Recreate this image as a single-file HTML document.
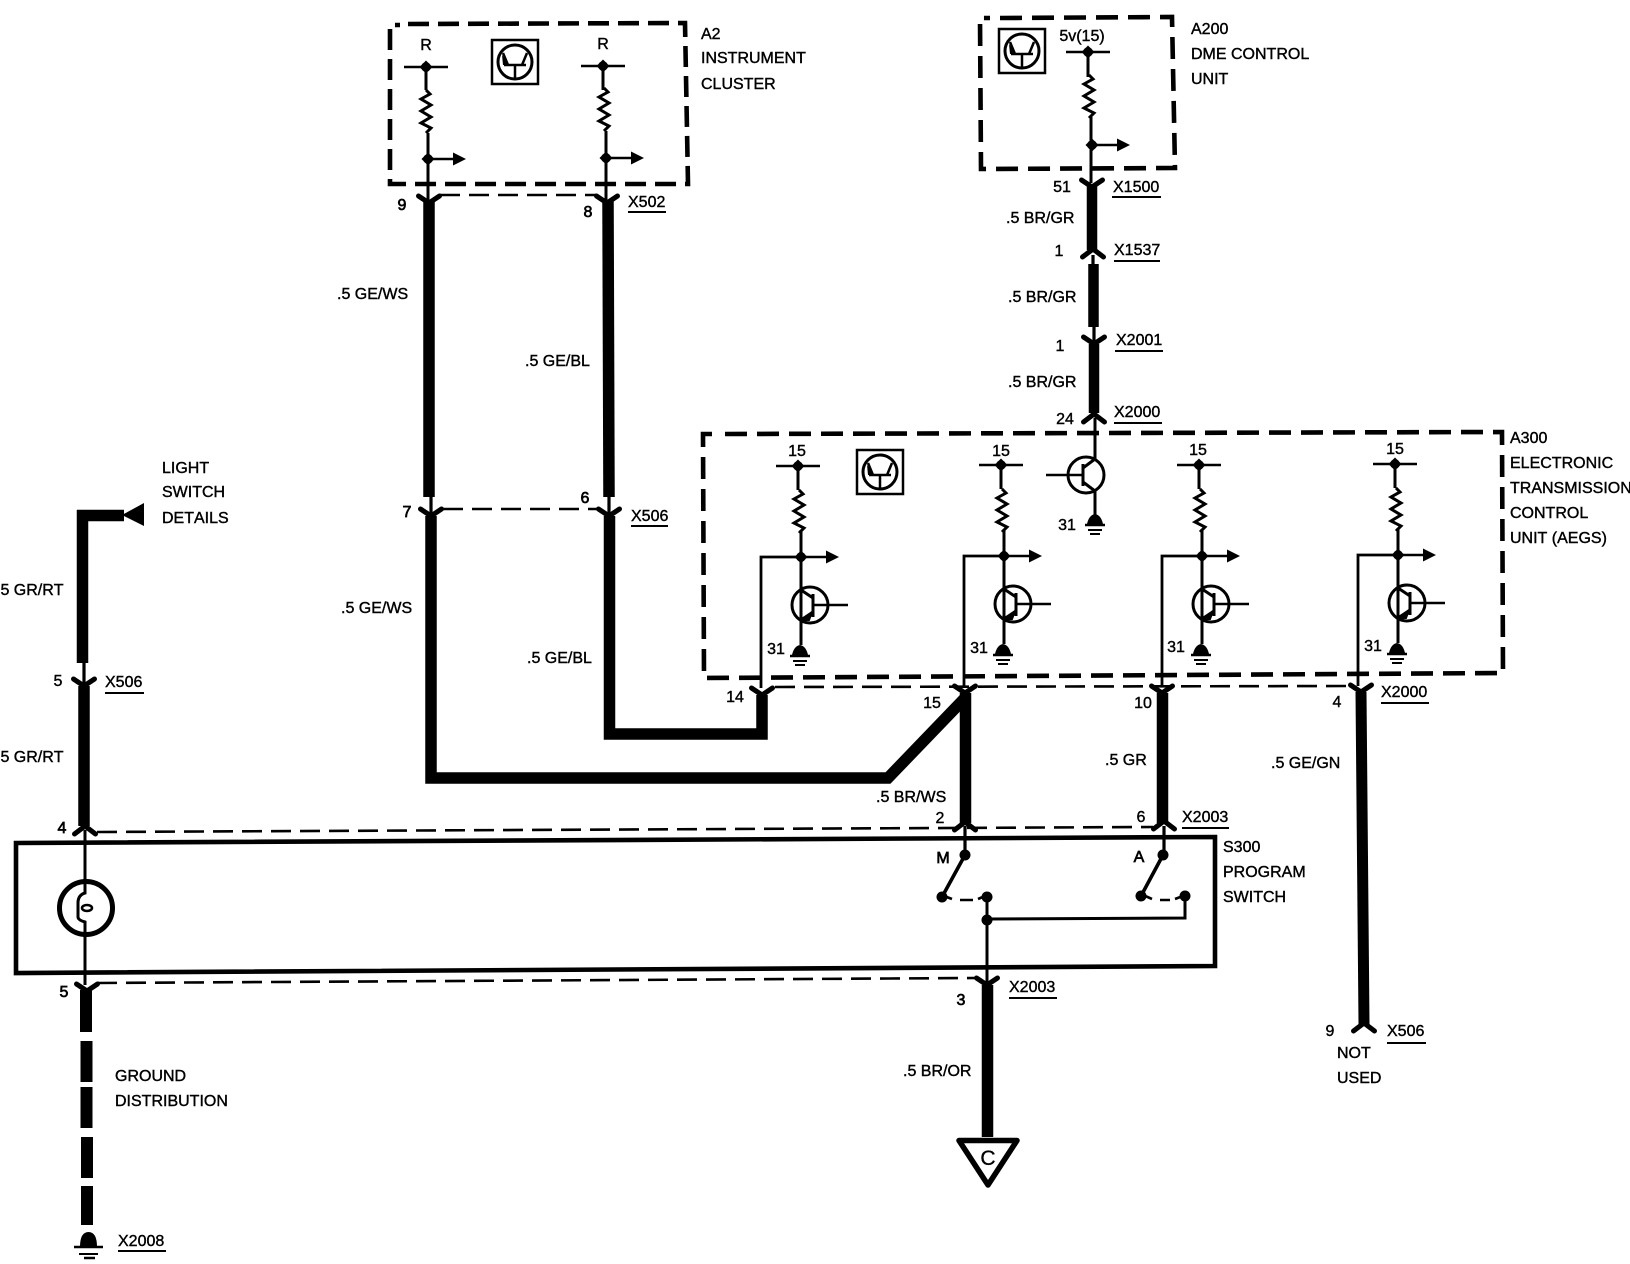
<!DOCTYPE html>
<html><head><meta charset="utf-8"><title>Wiring diagram</title>
<style>
html,body{margin:0;padding:0;background:#fff}
svg{display:block}
text{font-family:"Liberation Sans",sans-serif;font-size:16px;font-kerning:none;fill:#000;stroke:#000;stroke-width:.4}
.m{text-anchor:middle}
.b{stroke-width:.7}
</style></head><body>
<svg width="1630" height="1264" viewBox="0 0 1630 1264" xmlns="http://www.w3.org/2000/svg">
<defs>
<path id="res" d="M0 0L4 4L-5 9L5 15L-5 21L5 27L-5 33L5 38L0 43" fill="none" stroke="#000" stroke-width="3"/>
<g id="dot"><path d="M0 -6.500L6.500 0L0 6.500L-6.500 0Z" fill="#000"/><circle r="4.800" fill="#000"/></g>
<g id="sup"><line x1="-22" x2="22" y1="0" y2="0" stroke="#000" stroke-width="2.500"/><use href="#dot"/></g>
<g id="arr"><line x1="0" x2="25" y1="0" y2="0" stroke="#000" stroke-width="2.500"/><path d="M25 -6.500L38 0L25 6.500Z" fill="#000"/><use href="#dot"/></g>
<g id="Y"><path d="M-10.500 -7L0 0L10.500 -7" fill="none" stroke="#000" stroke-width="5" stroke-linecap="round"/></g>
<g id="A"><path d="M-10.500 7L0 -1L10.500 7" fill="none" stroke="#000" stroke-width="5" stroke-linecap="round"/></g>
<g id="gnd"><path d="M-8 3Q-6 -6 0 -7Q6 -6 8 3Z" fill="#000"/><g stroke="#000"><line x1="-10" x2="10" y1="4" y2="4" stroke-width="2.500"/><line x1="-7" x2="7" y1="9" y2="9" stroke-width="2"/><line x1="-5" x2="5" y1="13" y2="13" stroke-width="2"/></g></g>
<g id="ico" fill="none" stroke="#000"><rect x="-23" y="-22" width="46" height="44" stroke-width="2.500"/><circle r="17" stroke-width="3"/><path d="M0 3V17M-11 3H11M-7 3L-12 -9M7 3L12 -9" stroke-width="2.500"/><path d="M-13 -7L-6 3L-12 3Z" fill="#000" stroke="none"/></g>
<g id="tr" fill="none" stroke="#000"><circle r="18" stroke-width="3"/><path d="M3 -11V12" stroke-width="3"/><path d="M-9 -15L3 -7M3 7L-9 15" stroke-width="3"/><path d="M-7 15L2 7L-1 15Z" fill="#000" stroke="#000" stroke-width="2"/><line x1="3" x2="38" y1="0" y2="0" stroke-width="2.500"/></g>
<g id="unit">
<use href="#sup" x="-3" y="-91"/>
<line x1="-3" x2="-3" y1="-91" y2="-67" stroke="#000" stroke-width="3"/>
<use href="#res" x="-2" y="-67"/>
<line x1="0" x2="0" y1="-27" y2="88" stroke="#000" stroke-width="3"/>
<use href="#arr"/>
<path d="M0 0H-40V131" fill="none" stroke="#000" stroke-width="2.800"/>
<use href="#tr" x="9" y="48"/>
<use href="#gnd" x="-1" y="95"/>
</g>
</defs>
<rect width="1630" height="1264" fill="#fff"/>

<!-- dashed boxes -->
<g fill="none" stroke="#000" stroke-width="4.600">
<path d="M408 24L685 23L688 184L390 184L390 25L400 25" stroke-dasharray="21 9"/>
<path d="M1000 18L1172 17L1175 168L981 169L980 18L990 18" stroke-dasharray="22 10"/>
<path d="M725 434L1502 432L1503 673L704 678L703 434L715 434" stroke-dasharray="22 10"/>
<path d="M16 843L1215 837L1215 966L16 973Z"/>
</g>

<!-- thin dashed connector lines -->
<g fill="none" stroke="#000" stroke-width="2.600" stroke-dasharray="20 9">
<path d="M440 195H596"/>
<path d="M443 509H600"/>
<path d="M775 687L1350 686"/>
<path d="M97 832L1153 827"/>
<path d="M97 983L977 978"/>
</g>

<!-- A2 -->
<use href="#ico" x="515" y="62"/>
<use href="#sup" x="426" y="67"/><use href="#sup" x="603" y="66"/>
<g stroke="#000" stroke-width="3" fill="none">
<path d="M426 67V90"/><path d="M428 133V200"/>
<path d="M603 66V90"/><path d="M606 131V200"/>
</g>
<use href="#res" x="426" y="90"/><use href="#res" x="604" y="88"/>
<use href="#arr" x="428" y="159"/><use href="#arr" x="606" y="158"/>

<!-- A200 -->
<use href="#ico" x="1022" y="51"/>
<use href="#sup" x="1088" y="52"/>
<path d="M1088 52V77M1091 117V183" stroke="#000" stroke-width="3" fill="none"/>
<use href="#res" x="1089" y="75"/>
<use href="#arr" x="1092" y="145"/>

<!-- A300 -->
<use href="#ico" x="880" y="472"/>
<use href="#unit" x="801" y="557"/>
<use href="#unit" x="1004" y="556"/>
<use href="#unit" x="1202" y="556"/>
<use href="#unit" x="1398" y="555"/>
<path d="M1095 418V460M1095 490V520" stroke="#000" stroke-width="3" fill="none"/>
<g fill="none" stroke="#000">
<circle cx="1086" cy="475" r="18" stroke-width="3"/>
<path d="M1083 464V486" stroke-width="3"/>
<path d="M1095 459L1083 468M1083 482L1095 491" stroke-width="3"/>
<path d="M1046 475H1083" stroke-width="2.500"/>
</g>
<use href="#gnd" x="1095" y="521"/>

<!-- thick wires -->
<g fill="none" stroke="#000" stroke-width="11.500">
<path d="M429 200V497"/>
<path d="M608 200L609 497"/>
<path d="M431 516V778H888L965 698"/>
<path d="M609.500 516V734H762V695"/>
<path d="M965.500 693V823"/>
<path d="M1162.500 693V823"/>
<path d="M1361 692L1364 1024" stroke-width="11"/>
<path d="M1092 185V250" stroke-width="10.500"/>
<path d="M1093.500 264V327" stroke-width="10.500"/>
<path d="M1094 344V413" stroke-width="10.500"/>
<path d="M77 515.500H124M82.500 510V663"/>
<path d="M84 686V826"/>
<path d="M86 990V1032M86.500 1041V1082M86.500 1087V1128M87 1137V1178M87 1186V1225" stroke-width="12"/>
<path d="M987.500 985V1137"/>
</g>
<path d="M144 503L122 515L144 526Z" fill="#000"/>

<!-- thin connector stubs -->
<g stroke="#000" stroke-width="3.200" fill="none">
<path d="M431 497V514M609 497V514"/>
<path d="M1093 255V265M1094 327V343"/>
<path d="M84 663V684"/>
<path d="M965 826V855M1164 826V855"/>
</g>

<!-- connector marks -->
<use href="#Y" x="429" y="203"/><use href="#Y" x="607" y="203"/>
<use href="#Y" x="431" y="516"/><use href="#Y" x="609" y="516"/>
<use href="#Y" x="1092" y="187"/>
<use href="#A" x="1093" y="250"/>
<use href="#Y" x="1094" y="344"/>
<use href="#A" x="1094" y="415"/>
<use href="#Y" x="84" y="686"/>
<use href="#A" x="85" y="827"/>
<use href="#Y" x="762" y="695"/><use href="#Y" x="965" y="693"/><use href="#Y" x="1162" y="693"/><use href="#Y" x="1361" y="692"/>
<use href="#A" x="965" y="823"/><use href="#A" x="1164" y="822"/>
<use href="#Y" x="87" y="991"/><use href="#Y" x="987" y="985"/>
<use href="#A" x="1364" y="1024"/>

<!-- S300 contents -->
<path d="M85 830V893Q78 895 78 903V917Q78 920 85 922V985" fill="none" stroke="#000" stroke-width="3"/>
<circle cx="86" cy="908" r="26.500" fill="none" stroke="#000" stroke-width="5"/>
<ellipse cx="87" cy="908" rx="5" ry="3" fill="none" stroke="#000" stroke-width="2.500"/>
<g fill="#000">
<circle cx="965" cy="855" r="5.500"/><circle cx="942" cy="897" r="5.500"/><circle cx="987" cy="897" r="5.500"/><circle cx="987" cy="920" r="5.500"/>
<circle cx="1163" cy="855" r="5.500"/><circle cx="1141" cy="896" r="5.500"/><circle cx="1185" cy="896" r="5.500"/>
</g>
<g fill="none" stroke="#000" stroke-width="3">
<path d="M965 855L942 897M1163 855L1141 896" stroke-width="3.600"/>
<path d="M987 897V985M987 919L1185 918V896"/>
<path d="M944 896L952 899M960 900H973M978 899L985 896M1143 895L1152 899M1160 900H1170M1175 899L1183 896" stroke-width="2.600"/>
</g>

<!-- triangle C -->
<path d="M959 1140.500H1017L988 1185Z" fill="none" stroke="#000" stroke-width="5.500" stroke-linejoin="round"/>
<text x="988" y="1165" class="m" style="font-size:21px;stroke-width:.3">C</text>

<!-- ground -->
<path d="M80 1247Q80 1232 88.500 1232Q97 1232 97 1247Z" fill="#000"/>
<g stroke="#000"><line x1="74" x2="103" y1="1247" y2="1247" stroke-width="2.500"/><line x1="79" x2="98" y1="1254" y2="1254" stroke-width="2"/><line x1="84" x2="95" y1="1258" y2="1258" stroke-width="2.500"/></g>

<!-- underlines -->
<g stroke="#000" stroke-width="2">
<line x1="628" x2="666" y1="212" y2="212"/>
<line x1="1112" x2="1161" y1="197" y2="197"/>
<line x1="1114" x2="1160" y1="261" y2="261"/>
<line x1="1115" x2="1163" y1="351" y2="351"/>
<line x1="1114" x2="1162" y1="423" y2="423"/>
<line x1="631" x2="668" y1="526" y2="526"/>
<line x1="105" x2="144" y1="693" y2="693"/>
<line x1="1381" x2="1429" y1="703" y2="703"/>
<line x1="1182" x2="1229" y1="828" y2="828"/>
<line x1="1009" x2="1057" y1="998" y2="998"/>
<line x1="1387" x2="1426" y1="1043" y2="1043"/>
<line x1="118" x2="166" y1="1251" y2="1251"/>
</g>

<!-- labels -->
<text x="701" y="39">A2</text><text x="701" y="63">INSTRUMENT</text><text x="701" y="89">CLUSTER</text>
<text x="426" y="50" class="m">R</text><text x="603" y="49" class="m">R</text>
<text x="402" y="210" class="m b">9</text><text x="588" y="217" class="m b">8</text>
<text x="628" y="207">X502</text>
<text x="1191" y="34">A200</text><text x="1191" y="59">DME CONTROL</text><text x="1191" y="84">UNIT</text>
<text x="1082" y="41" class="m">5v(15)</text>
<text x="1062" y="192" class="m">51</text><text x="1113" y="192">X1500</text>
<text x="1006" y="223">.5 BR/GR</text>
<text x="1059" y="256" class="m">1</text><text x="1114" y="255">X1537</text>
<text x="1008" y="302">.5 BR/GR</text>
<text x="1060" y="351" class="m">1</text><text x="1116" y="345">X2001</text>
<text x="1008" y="387">.5 BR/GR</text>
<text x="1065" y="424" class="m">24</text><text x="1114" y="417">X2000</text>
<text x="1510" y="443">A300</text><text x="1510" y="468">ELECTRONIC</text><text x="1510" y="493">TRANSMISSION</text><text x="1510" y="518">CONTROL</text><text x="1510" y="543">UNIT (AEGS)</text>
<text x="797" y="456" class="m">15</text><text x="1001" y="456" class="m">15</text><text x="1198" y="455" class="m">15</text><text x="1395" y="454" class="m">15</text>
<text x="776" y="654" class="m">31</text><text x="979" y="653" class="m">31</text><text x="1176" y="652" class="m">31</text><text x="1373" y="651" class="m">31</text><text x="1067" y="530" class="m">31</text>
<text x="1381" y="697">X2000</text><text x="1337" y="707" class="m">4</text>
<text x="735" y="702" class="m">14</text><text x="932" y="708" class="m">15</text><text x="1143" y="708" class="m">10</text>
<text x="337" y="299">.5 GE/WS</text><text x="341" y="613">.5 GE/WS</text>
<text x="525" y="366">.5 GE/BL</text><text x="527" y="663">.5 GE/BL</text>
<text x="407" y="517" class="m b">7</text><text x="585" y="503" class="m b">6</text><text x="631" y="521">X506</text>
<text x="162" y="473">LIGHT</text><text x="162" y="497">SWITCH</text><text x="162" y="523">DETAILS</text>
<text x="-4" y="595">.5 GR/RT</text><text x="-4" y="762">.5 GR/RT</text>
<text x="58" y="686" class="m">5</text><text x="105" y="687">X506</text>
<text x="62" y="833" class="m b">4</text><text x="64" y="997" class="m b">5</text>
<text x="940" y="823" class="m">2</text><text x="1141" y="822" class="m">6</text><text x="1182" y="822">X2003</text>
<text x="1223" y="852">S300</text><text x="1223" y="877">PROGRAM</text><text x="1223" y="902">SWITCH</text>
<text x="943" y="863" class="m b">M</text><text x="1139" y="862" class="m b">A</text>
<text x="876" y="802">.5 BR/WS</text><text x="1105" y="765">.5 GR</text><text x="1271" y="768">.5 GE/GN</text>
<text x="1009" y="992">X2003</text><text x="961" y="1005" class="m b">3</text>
<text x="903" y="1076">.5 BR/OR</text>
<text x="1330" y="1036" class="m">9</text><text x="1387" y="1036">X506</text>
<text x="1337" y="1058">NOT</text><text x="1337" y="1083">USED</text>
<text x="115" y="1081">GROUND</text><text x="115" y="1106">DISTRIBUTION</text>
<text x="118" y="1246">X2008</text>
</svg>
</body></html>
